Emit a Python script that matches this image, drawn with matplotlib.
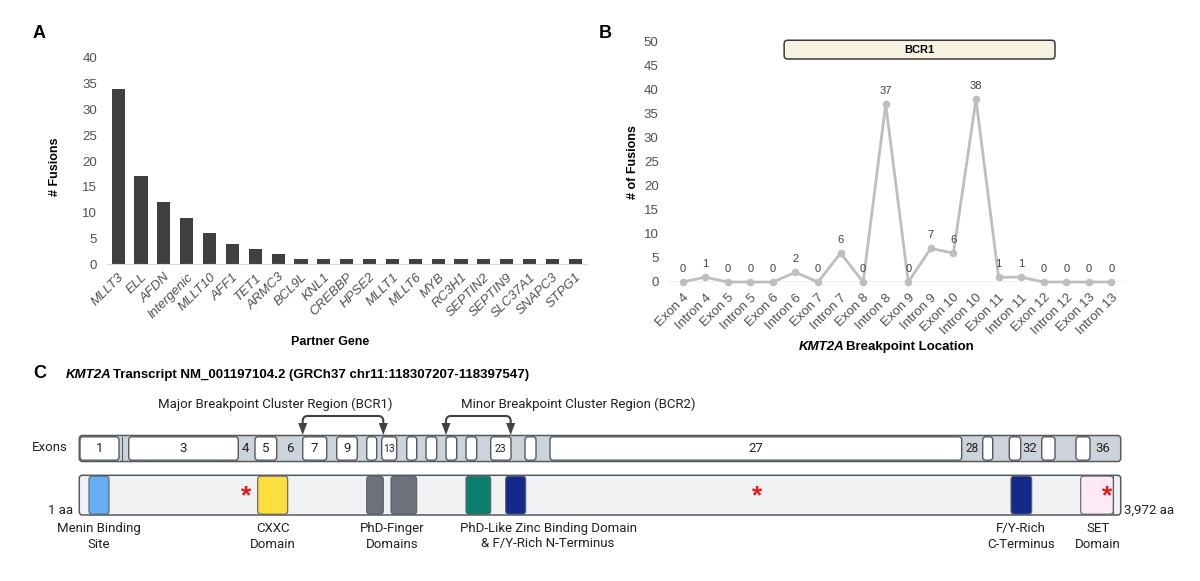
import matplotlib
matplotlib.use('Agg')
import matplotlib.pyplot as plt
from matplotlib.patches import FancyBboxPatch, Polygon, PathPatch
from matplotlib.path import Path

plt.rcParams['font.family'] = ['Liberation Sans', 'DejaVu Sans']

# ---- panel A data
partner_genes = ['MLLT3', 'ELL', 'AFDN', 'Intergenic', 'MLLT10', 'AFF1', 'TET1', 'ARMC3',
                 'BCL9L', 'KNL1', 'CREBBP', 'HPSE2', 'MLLT1', 'MLLT6', 'MYB', 'RC3H1',
                 'SEPTIN2', 'SEPTIN9', 'SLC37A1', 'SNAPC3', 'STPG1']
fusion_counts = [34, 17, 12, 9, 6, 4, 3, 2, 1, 1, 1, 1, 1, 1, 1, 1, 1, 1, 1, 1, 1]

# ---- panel B data
breakpoints = ['Exon 4', 'Intron 4', 'Exon 5', 'Intron 5', 'Exon 6', 'Intron 6', 'Exon 7',
               'Intron 7', 'Exon 8', 'Intron 8', 'Exon 9', 'Intron 9', 'Exon 10', 'Intron 10',
               'Exon 11', 'Intron 11', 'Exon 12', 'Intron 12', 'Exon 13', 'Intron 13']
breakpoint_counts = [0, 1, 0, 0, 0, 2, 0, 6, 0, 37, 0, 7, 6, 38, 1, 1, 0, 0, 0, 0]
bcr1_span = (4.5, 16.5)

# ---- panel C layout (pixel positions along the diagram)
white_exons = [(80, 119, '1'), (128.7, 238.3, '3'), (255, 276.7, '5'), (302.7, 326.7, '7'),
               (336.7, 357.3, '9'), (366.7, 376.7, ''), (381.7, 396.7, '13'), (406.7, 416.7, ''),
               (426, 436.7, ''), (446, 456.7, ''), (466, 476.7, ''), (490.7, 511, '23'),
               (525, 536, ''), (550, 961.7, '27'), (982.7, 992.7, ''), (1009.3, 1020.7, ''),
               (1041.7, 1055, ''), (1076, 1090, '')]
gray_exon_labels = [(245.3, '4'), (290, '6'), (971.7, '28'), (1030, '32'), (1103.3, '36')]
domains = [(89, 109, '#66AEF4'), (257.7, 287.7, '#FDDE3E'), (366.7, 383.3, '#6C717C'),
           (391, 416.7, '#6C717C'), (466, 490.7, '#0A7F6E'), (505.7, 525.7, '#14298A'),
           (1011, 1031.7, '#14298A'), (1080.7, 1113.3, '#FDEAF4')]
domain_labels = [(99, 'Menin Binding\nSite'), (272.7, 'CXXC\nDomain'),
                 (391.7, 'PhD-Finger\nDomains'),
                 (548, 'PhD-Like Zinc Binding Domain\n& F/Y-Rich N-Terminus'),
                 (1021, 'F/Y-Rich\nC-Terminus'), (1098, 'SET\nDomain')]
star_x = [245.7, 757.3, 1106.7]
brackets = [(302.7, 383.3, 'Major Breakpoint Cluster Region (BCR1)', 275),
            (446, 510.7, 'Minor Breakpoint Cluster Region (BCR2)', 578)]

W, H = 1200, 581
fig = plt.figure(figsize=(12, 5.81), dpi=100)

# ================= panel A
axA = fig.add_axes([106.7 / W, 1 - 264.3 / H, 480 / W, (264.3 - 57.7) / H])
xa = range(len(partner_genes))
axA.bar(xa, fusion_counts, width=0.58, color='#404040', zorder=2)
axA.set_xlim(-0.5, 20.5)
axA.set_ylim(0, 40)
axA.set_yticks(range(0, 41, 5))
axA.set_xticks(list(xa))
axA.set_xticklabels(partner_genes, rotation=45, ha='right', va='top', rotation_mode='anchor',
                    style='italic', fontsize=9.5, color='#505050')
for s in ['top', 'right', 'left']:
    axA.spines[s].set_visible(False)
axA.spines['bottom'].set_color('#d9d9d9')
axA.tick_params(axis='both', length=0, labelsize=9.5, labelcolor='#505050')
axA.tick_params(axis='x', pad=5)
axA.tick_params(axis='y', pad=7)
axA.set_ylabel('# Fusions', fontweight='bold', fontsize=9)
axA.yaxis.set_label_coords((61 - 106.7) / 480, 0.47)
axA.set_xlabel('Partner Gene', fontweight='bold', fontsize=9)
axA.xaxis.set_label_coords((330 - 106.7) / 480, -(336 - 264.3) / 206.6)

# ================= panel B
axB = fig.add_axes([660 / W, 1 - 282 / H, (1134 - 660) / W, (282 - 41.7) / H])
xb = list(range(len(breakpoints)))
axB.axhline(0, xmin=0.02, xmax=0.98, color='#ececec', lw=1.2, zorder=0)
axB.plot(xb, breakpoint_counts, color='#BEBEBE', lw=2, marker='o', ms=5.5,
         markeredgewidth=0, clip_on=False, zorder=3)
for i, v in zip(xb, breakpoint_counts):
    axB.annotate(str(v), (i, v), xytext=(0, 9.5), textcoords='offset points',
                 ha='center', va='center', fontsize=8, color='#404040')
axB.set_xlim(-1, 20)
axB.set_ylim(0, 50)
axB.set_yticks(range(0, 51, 5))
axB.set_xticks(xb)
axB.set_xticklabels(breakpoints, rotation=45, ha='right', va='top', rotation_mode='anchor',
                    fontsize=9, color='#505050')
for s in axB.spines.values():
    s.set_visible(False)
axB.tick_params(axis='both', length=0, labelsize=9.5, labelcolor='#505050')
axB.tick_params(axis='x', pad=7)
axB.tick_params(axis='y', pad=1)
axB.set_ylabel('# of Fusions', fontweight='bold', fontsize=9)
axB.yaxis.set_label_coords((639 - 660) / 474, 0.5)
axB.add_patch(FancyBboxPatch((bcr1_span[0], 46.4), bcr1_span[1] - bcr1_span[0], 3.9,
                             boxstyle='round,pad=0,rounding_size=0.15', mutation_aspect=5,
                             facecolor='#F6F2DF', edgecolor='#3a3a3a', lw=1.1, clip_on=False))
axB.text((bcr1_span[0] + bcr1_span[1]) / 2, 48.35, 'BCR1', ha='center', va='center',
         fontsize=8, fontweight='bold')

# ================= overlay in pixel space (panel letters + panel C)
axC = fig.add_axes([0, 0, 1, 1])
axC.set_xlim(0, W)
axC.set_ylim(H, 0)
axC.axis('off')
axC.patch.set_visible(False)

for lx, ly, lt in [(33, 33, 'A'), (599, 33, 'B'), (33, 374, 'C')]:
    axC.text(lx, ly, lt, fontsize=13, fontweight='bold', ha='left', va='center')

# B x label with italic gene name
t1 = axC.text(799, 353, 'KMT2A', fontsize=9.5, fontweight='bold', style='italic',
              ha='left', va='bottom')
axC.annotate('Breakpoint Location', xy=(1, 0), xycoords=t1, xytext=(1.5, 0),
             textcoords='offset pixels', fontsize=9.5, fontweight='bold',
             ha='left', va='bottom')

# C title
t2 = axC.text(66, 381, 'KMT2A', fontsize=9.5, fontweight='bold', style='italic',
              ha='left', va='bottom')
axC.annotate('Transcript NM_001197104.2 (GRCh37 chr11:118307207-118397547)', xy=(1, 0),
             xycoords=t2, xytext=(1.5, 0), textcoords='offset pixels', fontsize=9.5,
             fontweight='bold', ha='left', va='bottom')

cfont = ['Roboto', 'DejaVu Sans']
edge = '#555a60'

# exon track
ex_top, ex_bot = 435.5, 461.5
axC.add_patch(FancyBboxPatch((79.3, ex_top), 1120.7 - 79.3, ex_bot - ex_top,
                             boxstyle='round,pad=0,rounding_size=3',
                             facecolor='#CDD3DA', edgecolor=edge, lw=1.1))
axC.plot([121.5, 121.5], [ex_top + 1, ex_bot - 1], color=edge, lw=0.8)
for x0, x1, lab in white_exons:
    axC.add_patch(FancyBboxPatch((x0, ex_top + 1.3), x1 - x0, ex_bot - ex_top - 2.6,
                                 boxstyle='round,pad=0,rounding_size=3',
                                 facecolor='white', edgecolor=edge, lw=1))
    if lab:
        fs = 7.5 if len(lab) == 2 and lab != '27' else 9.5
        axC.text((x0 + x1) / 2, (ex_top + ex_bot) / 2 + 0.5, lab, ha='center', va='center',
                 fontsize=fs, family=cfont, color='#222222')
for xc, lab in gray_exon_labels:
    fs = 8.5 if lab == '28' else 9.5
    axC.text(xc, (ex_top + ex_bot) / 2 + 0.5, lab, ha='center', va='center', fontsize=fs,
             family=cfont, color='#222222')
axC.text(67.7, 447.5, 'Exons', ha='right', va='center', fontsize=9.5, family=cfont,
         color='#222222')

# brackets with arrows
for xl, xr, label, xt in brackets:
    yb, ya = 416, 424
    r = 5
    verts = [(xl, ya), (xl, yb + r), (xl, yb), (xl + r, yb), (xr - r, yb), (xr, yb),
             (xr, yb + r), (xr, ya)]
    codes = [Path.MOVETO, Path.LINETO, Path.CURVE3, Path.CURVE3, Path.LINETO, Path.CURVE3,
             Path.CURVE3, Path.LINETO]
    axC.add_patch(PathPatch(Path(verts, codes), facecolor='none', edgecolor='#3d4249', lw=1.5))
    for xa_ in (xl, xr):
        axC.add_patch(Polygon([(xa_ - 4.5, 423), (xa_ + 4.5, 423), (xa_, 435)], closed=True,
                              facecolor='#3d4249', edgecolor='none'))
    axC.text(xt, 404, label, ha='center', va='center', fontsize=9.5, family=cfont,
             color='#222222')

# protein track
pr_top, pr_bot = 475.3, 515
axC.add_patch(FancyBboxPatch((79.3, pr_top), 1120.7 - 79.3, pr_bot - pr_top,
                             boxstyle='round,pad=0,rounding_size=3',
                             facecolor='#F1F2F4', edgecolor=edge, lw=1.1))
for x0, x1, col in domains:
    axC.add_patch(FancyBboxPatch((x0, pr_top + 0.8), x1 - x0, pr_bot - pr_top - 1.6,
                                 boxstyle='round,pad=0,rounding_size=3',
                                 facecolor=col, edgecolor='#5a5f66', lw=0.8))
axC.plot([1113.3, 1113.3], [pr_top + 1, pr_bot - 1], color='#5a5f66', lw=0.8)
for sx in star_x:
    axC.text(sx, 496, '*', ha='center', va='center', fontsize=19, fontweight='bold',
             color='#E3191C')
axC.text(72.7, 510, '1 aa', ha='right', va='center', fontsize=9.5, family=cfont,
         color='#222222')
axC.text(1124, 510, '3,972 aa', ha='left', va='center', fontsize=9.5, family=cfont,
         color='#222222')
for xc, lab in domain_labels:
    axC.text(xc, 522, lab, ha='center', va='top', fontsize=9.5, family=cfont,
             color='#222222', linespacing=1.25)

fig.savefig('out.png', dpi=100)
